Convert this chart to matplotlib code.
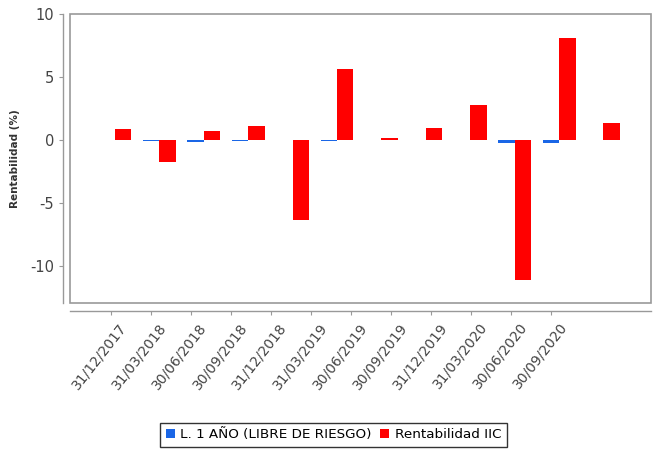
import matplotlib.pyplot as plt
import matplotlib.transforms as mtransforms
import numpy as np
from matplotlib.patches import Rectangle

plt.rcParams["axes.unicode_minus"] = False

fechas = ["31/12/2017", "31/03/2018", "30/06/2018", "30/09/2018", "31/12/2018", "31/03/2019",
          "30/06/2019", "30/09/2019", "31/12/2019", "31/03/2020", "30/06/2020", "30/09/2020"]
libre_riesgo = [0.05, -0.05, -0.15, -0.05, 0.02, -0.05, 0.05, 0.02, 0.02, -0.2, -0.2, 0.02]
rentabilidad_iic = [0.9, -1.75, 0.7, 1.1, -6.35, 5.67, 0.2, 0.95, 2.8, -11.07, 8.1, 1.37]

fig = plt.figure(figsize=(6.59, 4.54), dpi=100)
ax = fig.add_axes([0.1062, 0.3326, 0.8817, 0.6366])

x = np.arange(len(fechas))
w = 0.37
ax.bar(x - w / 2, libre_riesgo, w, color="#1a66e6", label="L. 1 AÑO (LIBRE DE RIESGO)")
ax.bar(x + w / 2, rentabilidad_iic, w, color="#ff0000", label="Rentabilidad IIC")

ax.set_xlim(-1.01, 12.07)
ax.set_ylim(-12.9, 10)
ax.set_yticks([10, 5, 0, -5, -10])

# caja del grafico + ejes desplazados (estilo JFreeChart)
ax.add_patch(Rectangle((0, 0), 1, 1, transform=ax.transAxes, fill=False,
                       edgecolor="#999999", linewidth=1.2, clip_on=False, zorder=5))
for s in ["top", "right"]:
    ax.spines[s].set_visible(False)
ax.spines["left"].set_position(("outward", 5))
ax.spines["bottom"].set_position(("outward", 5.8))
for s in ["left", "bottom"]:
    ax.spines[s].set_color("#999999")
    ax.spines[s].set_linewidth(1.0)

# etiquetas del eje de categorias
ax.tick_params(axis="both", colors="#999999", length=3, labelcolor="#444444")
ax.tick_params(axis="y", labelsize=10.5)
ticks = -0.097 + 0.901 * x
ax.set_xticks(ticks)
ax.set_xticklabels(fechas, rotation=52, ha="right", rotation_mode="anchor", fontsize=10, color="#444444")
shift = mtransforms.ScaledTranslation(8 / 100, 0, fig.dpi_scale_trans)
for lbl in ax.xaxis.get_majorticklabels():
    lbl.set_transform(lbl.get_transform() + shift)

ax.set_ylabel("Rentabilidad (%)", fontsize=7.5, color="#333333", fontweight="bold")
ax.yaxis.set_label_coords(-0.086, 0.5)

leg = fig.legend(loc="center", bbox_to_anchor=(0.506, 0.042), ncol=2, fontsize=9.7,
                 frameon=True, fancybox=False, edgecolor="black", handlelength=0.7,
                 handleheight=0.7, handletextpad=0.4, columnspacing=0.6, borderpad=0.4)
leg.get_frame().set_linewidth(1.0)

fig.savefig("out.png", dpi=100)
